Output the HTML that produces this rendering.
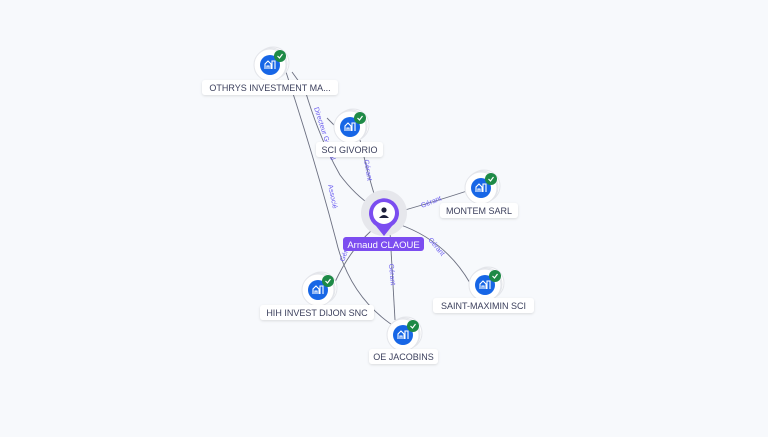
<!DOCTYPE html>
<html><head><meta charset="utf-8"><style>
body{margin:0;background:#f7f9fc;width:768px;height:432px;overflow:hidden;font-family:"Liberation Sans",sans-serif}
</style></head><body>
<svg width="768" height="432" viewBox="0 0 768 432" xmlns="http://www.w3.org/2000/svg">
<defs>
<filter id="sh" x="-20%" y="-40%" width="140%" height="180%"><feDropShadow dx="0" dy="1" stdDeviation="1.2" flood-color="#000" flood-opacity="0.12"/></filter>
<g id="co">
<circle cx="3" cy="-2" r="16" fill="#fff" stroke="#e3e5ea"/>
<circle cx="1" cy="-1" r="16" fill="#fff" stroke="#e3e5ea"/>
<circle cx="0" cy="0" r="16" fill="#fff" stroke="#e3e5ea"/>
<circle cx="0" cy="0" r="10" fill="#1766e6"/>
<path d="M-5 4 V-1 L-2 -4 L1 -1 V4 M2 4 V-4 H5 V4 M-3 4 V1 H-1 V4" stroke="#fff" stroke-width="1.1" fill="none"/>
<circle cx="10" cy="-9" r="6" fill="#1e8a46"/>
<path d="M7.5 -9 L9.5 -7 L12.5 -11" stroke="#fff" stroke-width="1.2" fill="none"/>
</g>
</defs>
<g stroke="#6b6f80" stroke-width="0.9" fill="none">
<path d="M286 72 Q315 160 336 240 Q350 300 400 330"/>
<path d="M292 72 L305 90 Q320 140 340 175 Q355 195 372 206"/>
<path d="M327 118 L335 126"/>
<path d="M360 140 Q368 175 376 200"/>
<path d="M398 212 Q440 200 470 190"/>
<path d="M398 224 Q445 240 470 283"/>
<path d="M390 232 L395 320"/>
<path d="M372 230 Q350 250 335 282"/>
</g>
<g font-size="7" fill="#6a5cf0">
<text transform="translate(314,108) rotate(72)">Directeur Général</text>
<text transform="translate(328,185) rotate(78)">Associé</text>
<text transform="translate(364,160) rotate(80)">Gérant</text>
<text transform="translate(422,208) rotate(-22)">Gérant</text>
<text transform="translate(428,240) rotate(50)">Gérant</text>
<text transform="translate(389,264) rotate(85)">Gérant</text>
<text transform="translate(344,262) rotate(-70)">Gérant</text>
</g>
<use href="#co" x="270" y="65"/>
<use href="#co" x="350" y="127"/>
<use href="#co" x="481" y="188"/>
<use href="#co" x="485" y="285"/>
<use href="#co" x="318" y="290"/>
<use href="#co" x="403" y="335"/>
<circle cx="384" cy="213" r="23" fill="#e6e7ec"/>
<path d="M384 236 L376 226 A15 15 0 1 1 392 226 Z" fill="#7b4df0"/>
<circle cx="384" cy="213" r="11" fill="#fff"/>
<circle cx="384" cy="210" r="2.6" fill="#1c1f3a"/>
<path d="M379 218 Q384 212 389 218 Z" fill="#1c1f3a"/>
<rect x="343" y="237" width="81" height="14" rx="3" fill="#7c4df0"/>
<text x="383.5" y="248" font-size="9.5" fill="#fff" text-anchor="middle">Arnaud CLAOUE</text>
<g font-size="9" fill="#3b3f5c" text-anchor="middle">
<rect x="202" y="80" width="136" height="15" rx="3" fill="#fff" filter="url(#sh)"/><text x="270" y="91">OTHRYS INVESTMENT MA...</text>
<rect x="316" y="142" width="67" height="15" rx="3" fill="#fff" filter="url(#sh)"/><text x="349.5" y="153">SCI GIVORIO</text>
<rect x="440" y="203" width="78" height="15" rx="3" fill="#fff" filter="url(#sh)"/><text x="479" y="214">MONTEM SARL</text>
<rect x="433" y="298" width="101" height="15" rx="3" fill="#fff" filter="url(#sh)"/><text x="483.5" y="309">SAINT-MAXIMIN SCI</text>
<rect x="260" y="305" width="114" height="15" rx="3" fill="#fff" filter="url(#sh)"/><text x="317" y="316">HIH INVEST DIJON SNC</text>
<rect x="369" y="349" width="69" height="15" rx="3" fill="#fff" filter="url(#sh)"/><text x="403.5" y="360">OE JACOBINS</text>
</g>
</svg>
</body></html>
